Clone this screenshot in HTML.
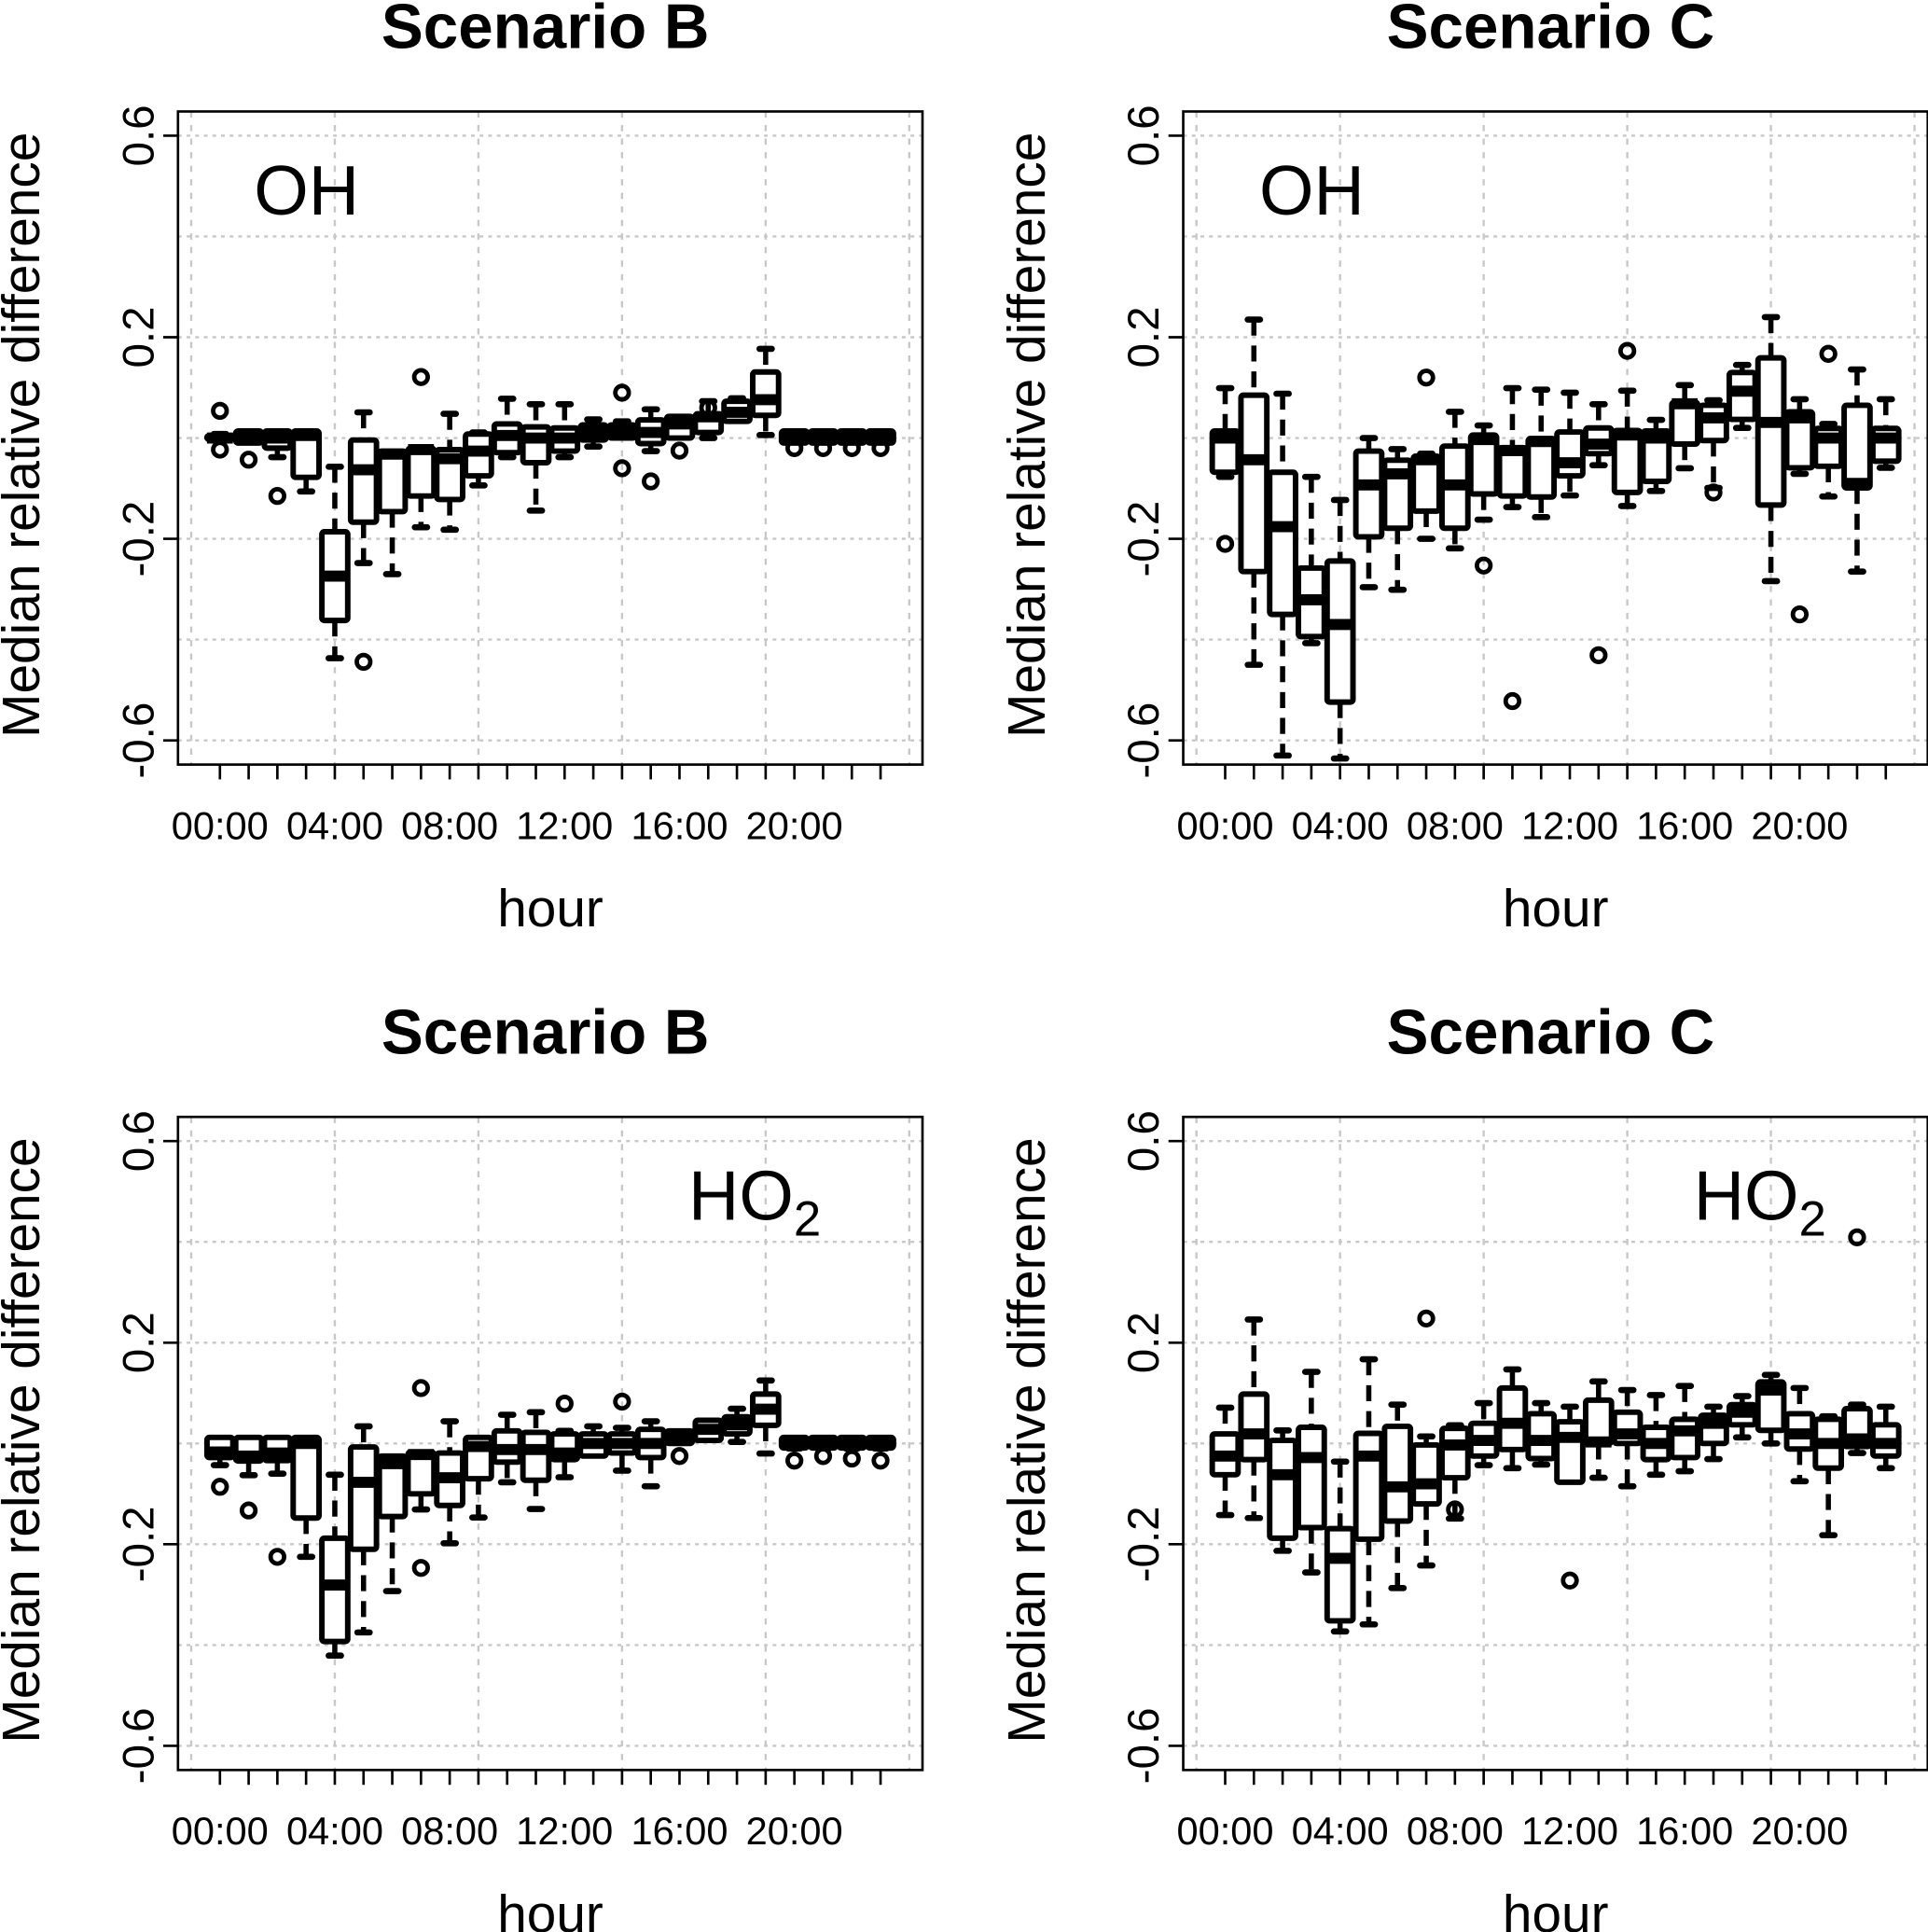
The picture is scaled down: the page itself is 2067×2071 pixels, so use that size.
<!DOCTYPE html>
<html><head><meta charset="utf-8">
<style>
html,body{margin:0;padding:0;background:#fff;}
svg{display:block;}
text{font-family:"Liberation Sans",Arial,sans-serif;fill:#000;}
</style></head>
<body>
<svg id="chart" width="2067" height="2071" viewBox="0 0 1566 1568" preserveAspectRatio="none" xmlns="http://www.w3.org/2000/svg"></svg>
<script>
// hours 0..23 ; each box: [lowWhisker, q1, median, q3, highWhisker]
const hourLabels = ["00:00","04:00","08:00","12:00","16:00","20:00"];
const yTicks = [0.6,0.2,-0.2,-0.6];
const gridY = [0.6,0.4,0.2,0,-0.2,-0.4,-0.6];

const ohB = [[-0.005,-0.003,0,0.005,0.008],[-0.01,-0.01,0,0.014,0.014],[-0.038,-0.02,0,0.014,0.014],[-0.106,-0.078,0.005,0.014,0.014],
[-0.437,-0.362,-0.274,-0.186,-0.057],[-0.248,-0.167,-0.063,-0.004,0.051],[-0.27,-0.146,-0.032,-0.026,-0.026],[-0.177,-0.115,-0.023,-0.02,-0.02],
[-0.182,-0.122,-0.041,-0.023,0.048],[-0.094,-0.075,-0.026,0.008,0.011],[-0.038,-0.029,0.005,0.028,0.078],[-0.144,-0.049,0,0.022,0.067],
[-0.038,-0.026,0,0.02,0.067],[-0.017,-0.004,0.011,0.026,0.037],[0,0,0.014,0.026,0.033],[-0.026,-0.011,0.011,0.036,0.057],
[0,0,0.028,0.043,0.043],[0,0.011,0.042,0.048,0.073],[0.033,0.033,0.051,0.073,0.079],[0.006,0.045,0.076,0.131,0.177],
[-0.005,-0.01,0,0.014,0.014],[-0.005,-0.01,0,0.014,0.014],[-0.005,-0.01,0,0.014,0.014],[-0.005,-0.01,0,0.014,0.014]];
const ohBOut = [[0,0.054],[0,-0.023],[1,-0.043],[2,-0.115],[5,-0.444],[7,0.121],[14,0.09],[14,-0.06],[15,-0.086],[16,-0.025],[17,0.06],[20,-0.02],[21,-0.02],[22,-0.02],[23,-0.02]];

const ohC = [[-0.077,-0.068,0,0.014,0.099],[-0.45,-0.265,-0.043,0.085,0.235],[-0.63,-0.35,-0.176,-0.068,0.088],[-0.407,-0.394,-0.321,-0.258,-0.077],
[-0.636,-0.524,-0.37,-0.244,-0.123],[-0.296,-0.196,-0.093,-0.026,0],[-0.301,-0.179,-0.071,-0.044,-0.022],[-0.2,-0.145,-0.043,-0.036,-0.031],
[-0.219,-0.179,-0.093,-0.016,0.052],[-0.162,-0.111,-0.003,0.006,0.025],[-0.137,-0.115,-0.025,-0.019,0.099],[-0.157,-0.117,-0.007,-0.001,0.096],
[-0.114,-0.075,-0.049,0.012,0.09],[-0.054,-0.031,-0.012,0.02,0.067],[-0.135,-0.108,0.006,0.015,0.094],[-0.105,-0.086,0,0.014,0.036],
[-0.06,-0.012,0.068,0.071,0.105],[-0.099,-0.005,0.04,0.065,0.075],[0.02,0.037,0.093,0.130,0.145],[-0.284,-0.133,0.031,0.159,0.24],
[-0.071,-0.059,0.04,0.052,0.077],[-0.116,-0.056,0,0.019,0.028],[-0.265,-0.099,-0.09,0.065,0.136],[-0.059,-0.046,0,0.019,0.077]];
const ohCOut = [[0,-0.21],[7,0.12],[9,-0.253],[10,-0.522],[13,-0.431],[14,0.173],[17,-0.108],[20,-0.35],[21,0.167]];

const ho2B = [[-0.043,-0.028,-0.017,0.012,0.012],[-0.063,-0.035,-0.025,0.012,0.012],[-0.06,-0.034,-0.019,0.012,0.012],[-0.225,-0.148,0,0.012,0.012],
[-0.421,-0.393,-0.281,-0.188,-0.062],[-0.375,-0.21,-0.077,-0.007,0.034],[-0.293,-0.145,-0.04,-0.025,-0.025],[-0.131,-0.1,-0.022,-0.017,-0.017],
[-0.198,-0.123,-0.068,-0.019,0.044],[-0.147,-0.07,-0.006,0.012,0.012],[-0.077,-0.037,-0.012,0.025,0.057],[-0.13,-0.073,-0.012,0.022,0.062],
[-0.067,-0.032,-0.019,0.019,0.025],[-0.025,-0.025,0,0.019,0.034],[-0.054,-0.019,0,0.019,0.031],[-0.085,-0.028,0,0.028,0.044],
[0,0,0.012,0.025,0.025],[0.006,0.006,0.028,0.046,0.046],[0.003,0.019,0.037,0.053,0.069],[-0.02,0.036,0.068,0.098,0.125],
[-0.01,-0.009,0,0.012,0.012],[-0.01,-0.009,0,0.012,0.012],[-0.01,-0.009,0,0.012,0.012],[-0.01,-0.009,0,0.012,0.012]];
const ho2BOut = [[0,-0.086],[1,-0.133],[2,-0.225],[7,0.11],[7,-0.247],[12,0.079],[14,0.083],[16,-0.025],[20,-0.034],[21,-0.025],[22,-0.03],[23,-0.034]];

const ho2C = [[-0.142,-0.062,-0.025,0.019,0.071],[-0.148,-0.032,0.019,0.098,0.246],[-0.213,-0.188,-0.062,0.006,0.026],[-0.256,-0.167,-0.028,0.032,0.142],
[-0.373,-0.352,-0.228,-0.169,-0.036],[-0.359,-0.19,-0.025,0.02,0.167],[-0.287,-0.154,-0.086,0.034,0.077],[-0.242,-0.12,-0.08,-0.003,0.014],
[-0.149,-0.068,-0.003,0.03,0.036],[-0.043,-0.025,0.006,0.04,0.08],[-0.049,-0.012,0.04,0.11,0.147],[-0.042,-0.03,0.006,0.059,0.08],
[-0.068,-0.077,0.012,0.043,0.073],[-0.068,0,0.003,0.086,0.123],[-0.085,0,0.019,0.062,0.106],[-0.062,-0.032,0,0.032,0.096],
[-0.055,-0.028,0.025,0.048,0.114],[-0.031,0,0.04,0.056,0.073],[0.012,0.037,0.062,0.077,0.094],[0,0.026,0.106,0.122,0.136],
[-0.075,-0.011,0.019,0.059,0.11],[-0.182,-0.049,0,0.048,0.054],[-0.019,-0.006,0.009,0.069,0.077],[-0.049,-0.025,0,0.037,0.073]];
const ho2COut = [[7,0.248],[8,-0.131],[12,-0.272],[22,0.409]];

const svg = document.getElementById('chart');
const NS = 'http://www.w3.org/2000/svg';
function mk(tag, attrs, parent){
  const e = document.createElementNS(NS, tag);
  for (const k in attrs) e.setAttribute(k, attrs[k]);
  (parent||svg).appendChild(e);
  return e;
}

function panel(dx, dy, title, boxes, outs, pname, label, labelX, sub){
  const g = mk('g', {});
  
  
  const xS = i => dx + 155.3 + 23.33 * i;
  const yS = v => dy + 355.5 - 409 * v;
  const L = xS(-0.46), R = xS(25.46), T = yS(0.648), B = yS(-0.648);
  for (const v of gridY){
    const l = mk('line', {x1:L, x2:R, y1:yS(v), y2:yS(v), stroke:'#c8c8c8', 'stroke-width':1.8, 'stroke-dasharray':'3 4'}, g);
    
    
  }
  for (let i=0;i<=25;i+=5){
    const l = mk('line', {x1:xS(i), x2:xS(i), y1:T, y2:B, stroke:'#c8c8c8', 'stroke-width':1.8, 'stroke-dasharray':'5 6'}, g);
    
    
  }
  const fr = mk('rect', {x:L, y:T, width:R-L, height:B-T, fill:'none', stroke:'#000', 'stroke-width':2}, g);
  
  
  for (const v of yTicks){
    mk('line', {x1:L-12, x2:L, y1:yS(v), y2:yS(v), stroke:'#000', 'stroke-width':2}, g);
    const t = mk('text', {x:0, y:0, 'font-size':36, 'text-anchor':'middle', transform:`translate(${L-20},${yS(v)}) rotate(-90)`}, g);
    t.textContent = v.toFixed(1);
    
    
  }
  for (let i=1;i<=24;i++){
    mk('line', {x1:xS(i), x2:xS(i), y1:B, y2:B+12, stroke:'#000', 'stroke-width':2}, g);
  }
  hourLabels.forEach((lab, k) => {
    const t = mk('text', {x:xS(1+4*k), y:dy+681, 'font-size':31.5, 'text-anchor':'middle'}, g);
    t.textContent = lab;
    
    
  });
  const xt = mk('text', {x:dx+447, y:dy+752, 'font-size':43, 'text-anchor':'middle'}, g);
  xt.textContent = 'hour';
  
  
  const yt = mk('text', {x:0, y:0, 'font-size':43, 'text-anchor':'middle', transform:`translate(${dx+32},${dy+353}) rotate(-90)`}, g);
  yt.textContent = 'Median relative difference';
  
  
  const tt = mk('text', {x:dx+443, y:dy+39, 'font-size':51, 'font-weight':'bold', 'text-anchor':'middle'}, g);
  tt.textContent = title;
  
  
  const lt = mk('text', {x:dx+labelX, y:dy+174, 'font-size':57, 'text-anchor':'middle'}, g);
  lt.textContent = label;
  if (sub){
    const ts = mk('tspan', {'font-size':40, dy:13}, lt);
    ts.textContent = sub;
  }
  
  
  boxes.forEach((b, h) => {
    const cx = xS(h+1), hw = 10.5;
    const bg = mk('g', {}, g);
    
    
    const [lo,q1,md,q3,hi] = b;
    const yq1 = yS(q1), yq3 = yS(q3);
    if (hi > q3){
      mk('line', {x1:cx, x2:cx, y1:yS(hi), y2:yq3, stroke:'#000', 'stroke-width':4.2, 'stroke-dasharray':'13 8'}, bg);
      mk('line', {x1:cx-5, x2:cx+5, y1:yS(hi), y2:yS(hi), stroke:'#000', 'stroke-width':5, 'stroke-linecap':'round'}, bg);
    }
    if (lo < q1){
      mk('line', {x1:cx, x2:cx, y1:yq1, y2:yS(lo), stroke:'#000', 'stroke-width':4.2, 'stroke-dasharray':'13 8'}, bg);
      mk('line', {x1:cx-5, x2:cx+5, y1:yS(lo), y2:yS(lo), stroke:'#000', 'stroke-width':5, 'stroke-linecap':'round'}, bg);
    }
    const top = Math.min(yq1,yq3), hgt = Math.max(Math.abs(yq1-yq3), 3);
    mk('rect', {x:cx-hw, y:top, width:2*hw, height:hgt, fill:'#fff', stroke:'#000', 'stroke-width':4.5, rx:2}, bg);
    mk('line', {x1:cx-hw, x2:cx+hw, y1:yS(md), y2:yS(md), stroke:'#000', 'stroke-width':9}, bg);
  });
  outs.forEach(o => {
    const c = mk('circle', {cx:xS(o[0]+1), cy:yS(o[1]), r:5.5, fill:'none', stroke:'#000', 'stroke-width':3.6}, g);
    
    
  });
}

panel(0, 0, 'Scenario B', ohB, ohBOut, 'panel-oh-scenario-b', 'OH', 249, null);
panel(816.5, 0, 'Scenario C', ohC, ohCOut, 'panel-oh-scenario-c', 'OH', 249, null);
panel(0, 816, 'Scenario B', ho2B, ho2BOut, 'panel-ho2-scenario-b', 'HO', 613, '2');
panel(816.5, 816, 'Scenario C', ho2C, ho2COut, 'panel-ho2-scenario-c', 'HO', 613, '2');
</script>
</body></html>
